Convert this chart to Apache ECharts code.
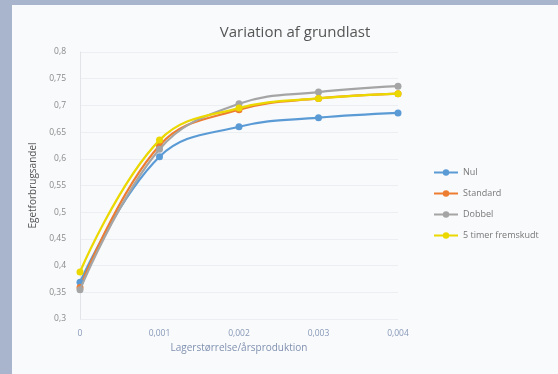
<!DOCTYPE html>
<html><head><meta charset="utf-8">
<script src="https://cdn.jsdelivr.net/npm/echarts@6/dist/echarts.min.js"></script>
<style>html,body{margin:0;padding:0;background:#fff}#c{width:558px;height:374px}</style>
</head><body><div id="c"></div>
<script>
const xValues = [0, 0.001, 0.002, 0.003, 0.004];
const xTickLabels = ['0', '0,001', '0,002', '0,003', '0,004'];
const seriesNames = ['Nul', 'Standard', 'Dobbel', '5 timer fremskudt'];
const nul = [0.369, 0.604, 0.660, 0.677, 0.686];
const standard = [0.359, 0.625, 0.692, 0.713, 0.722];
const dobbel = [0.355, 0.618, 0.703, 0.725, 0.736];
const fremskudt = [0.388, 0.635, 0.695, 0.713, 0.722];
const colors = ['#5B9BD5', '#ED7D31', '#A5A5A5', '#EBD800'];

const chart = echarts.init(document.getElementById('c'));
const allData = [nul, standard, dobbel, fremskudt];
chart.setOption({
  backgroundColor: '#A9B5CC',
  animation: false,
  graphic: [{type:'rect', shape:{x:12, y:5, width:546, height:369}, style:{fill:'#F9FAFC'}, z:-10}],
  title: {text:'Variation af grundlast', left:290, top:20, textAlign:'center',
    textStyle:{fontFamily:'Open Sans', fontSize:15, fontWeight:'normal', color:'#555'}},
  grid: {left:80, right:160, top:52, bottom:55},
  legend: {orient:'vertical', left:428, top:163, itemGap:12, itemWidth:24, itemHeight:8,
    data: seriesNames,
    textStyle:{fontFamily:'Open Sans', fontSize:9, color:'#777'}},
  xAxis: {type:'value', min:0, max:0.004, interval:0.001,
    name:'Lagerstørrelse/årsproduktion', nameLocation:'middle', nameGap:22,
    nameTextStyle:{fontFamily:'Open Sans', fontSize:10, color:'#8090B0'},
    axisLine:{show:false}, axisTick:{show:false}, splitLine:{show:false},
    axisLabel:{fontFamily:'Open Sans', fontSize:8.5, color:'#8898B8', margin:10,
      formatter: v => { const k = xValues.indexOf(Math.round(v*1000)/1000); return k >= 0 ? xTickLabels[k] : ''; }}},
  yAxis: {type:'value', min:0.3, max:0.8, interval:0.05,
    name:'Egetforbrugsandel', nameLocation:'middle', nameGap:31, nameRotate:90,
    nameTextStyle:{fontFamily:'Open Sans', fontSize:10, color:'#555'},
    axisLine:{show:true, lineStyle:{color:'#E2E4E8'}}, axisTick:{show:false},
    splitLine:{lineStyle:{color:'#ECEEF1'}},
    axisLabel:{fontFamily:'Open Sans', fontSize:8.5, color:'#8a8a8a', margin:14,
      formatter: v => String(Math.round(v*100)/100).replace('.', ',')}},
  series: seriesNames.map((n,i) => ({
    name:n, type:'line', smooth:0.4, symbol:'circle', symbolSize:7,
    data: xValues.map((x,j) => [x, allData[i][j]]),
    itemStyle:{color:colors[i]}, lineStyle:{width:2.2, color:colors[i]}, z: i===3?5:(i===2?4:3)
  }))
});
</script></body></html>
